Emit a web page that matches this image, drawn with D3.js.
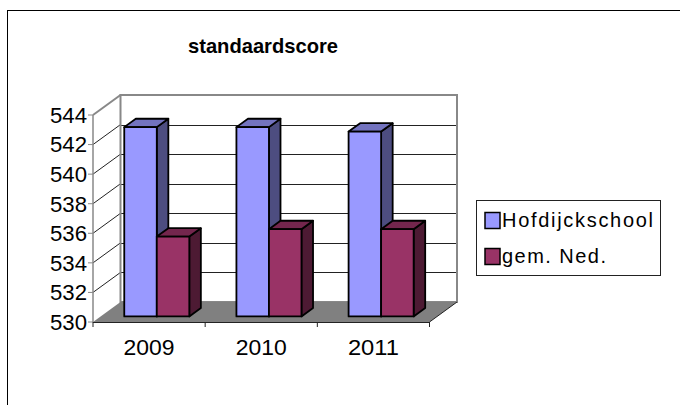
<!DOCTYPE html>
<html>
<head>
<meta charset="utf-8">
<script src="https://cdn.jsdelivr.net/npm/d3@7"></script>
<style>
  body { margin: 0; background: #fff; }
  svg { display: block; font-family: Arial, "Liberation Sans", sans-serif; }
</style>
</head>
<body>
<svg id="chart" width="680" height="405"></svg>
<script>
// chart values
const years = ['2009', '2010', '2011'];
const hofdijckschool = [542.8, 542.8, 542.5];
const gemNed = [535.4, 535.9, 535.9];
const seriesNames = ['Hofdijckschool', 'gem. Ned.'];
const yDomain = [530, 544];

const svg = d3.select('#chart');

// 3d frame: front plane + depth vector
const front = { left: 93, right: 429.5, bottom: 322, top: 115 };
const DX = 27.5, DY = -20;
const barDepth = [0.28, 0.70];

const y = d3.scaleLinear().domain(yDomain).range([front.bottom, front.top]);
const x = d3.scaleBand().domain(years).range([front.left, front.right]);
const groupW = x.bandwidth() * 0.58;
const xs = d3.scaleBand().domain(seriesNames).range([0, groupW]);

const P = (px, py, d) => [px + d * DX, py + d * DY];
const poly = pts => pts.map(p => p.join(',')).join(' ');

const colors = {
  'Hofdijckschool': { front: '#9999ff', top: '#7373bf', side: '#4d4d80' },
  'gem. Ned.': { front: '#993366', top: '#73264d', side: '#4d1a33' }
};

// outer border
svg.append('rect')
  .attr('x', 7.5).attr('y', 10.5)
  .attr('width', 700).attr('height', 420)
  .attr('fill', 'none').attr('stroke', '#000');

// title
svg.append('text')
  .attr('x', 263).attr('y', 53)
  .attr('text-anchor', 'middle')
  .attr('font-size', 21).attr('font-weight', 'bold')
  .attr('textLength', 150).attr('lengthAdjust', 'spacingAndGlyphs')
  .text('standaardscore');

const ticks = y.ticks(7);

// back wall
const bl = P(front.left, front.bottom, 1), tr = P(front.right, front.top, 1);
svg.append('rect')
  .attr('x', bl[0]).attr('y', tr[1])
  .attr('width', tr[0] - bl[0]).attr('height', bl[1] - tr[1])
  .attr('fill', '#fff');

svg.append('g').selectAll('line')
  .data(ticks.filter(t => t > yDomain[0] && t < yDomain[1]))
  .join('line')
  .attr('x1', bl[0]).attr('x2', tr[0])
  .attr('y1', d => Math.round(y(d) + DY) + 0.5)
  .attr('y2', d => Math.round(y(d) + DY) + 0.5)
  .attr('stroke', '#222').attr('stroke-width', 1);

// left wall diagonals
svg.append('g').selectAll('line')
  .data(ticks.filter(t => t > yDomain[0]))
  .join('line')
  .attr('x1', front.left).attr('y1', d => y(d))
  .attr('x2', front.left + DX).attr('y2', d => y(d) + DY)
  .attr('stroke', d => d === yDomain[1] ? '#888' : '#222')
  .attr('stroke-width', d => d === yDomain[1] ? 2 : 1);

svg.append('rect')
  .attr('x', bl[0]).attr('y', tr[1])
  .attr('width', tr[0] - bl[0]).attr('height', bl[1] - tr[1])
  .attr('fill', 'none').attr('stroke', '#888').attr('stroke-width', 2);

// floor
svg.append('polygon')
  .attr('points', poly([
    [front.left, front.bottom], [front.right, front.bottom],
    P(front.right, front.bottom, 1), P(front.left, front.bottom, 1)
  ]))
  .attr('fill', '#808080');
svg.append('line')
  .attr('x1', front.right).attr('y1', front.bottom)
  .attr('x2', front.right + DX).attr('y2', front.bottom + DY)
  .attr('stroke', '#222');

// value axis
svg.append('line')
  .attr('x1', front.left).attr('x2', front.left)
  .attr('y1', front.top).attr('y2', front.bottom)
  .attr('stroke', '#888').attr('stroke-width', 1.5);
const yAxis = svg.append('g');
yAxis.selectAll('line')
  .data(ticks).join('line')
  .attr('x1', front.left - 5).attr('x2', front.left)
  .attr('y1', d => y(d)).attr('y2', d => y(d))
  .attr('stroke', '#888');
yAxis.selectAll('text')
  .data(ticks).join('text')
  .attr('x', 87).attr('y', d => y(d))
  .attr('dy', '0.36em')
  .attr('text-anchor', 'end')
  .attr('font-size', 22)
  .attr('textLength', 37).attr('lengthAdjust', 'spacingAndGlyphs')
  .text(d => d);

// category axis
svg.append('line')
  .attr('x1', front.left).attr('x2', front.right)
  .attr('y1', front.bottom + 0.5).attr('y2', front.bottom + 0.5)
  .attr('stroke', '#222');
svg.append('g').selectAll('line')
  .data([...years.map(c => x(c)), front.right])
  .join('line')
  .attr('x1', d => d).attr('x2', d => d)
  .attr('y1', front.bottom).attr('y2', front.bottom + 5)
  .attr('stroke', '#222');
svg.append('g').selectAll('text')
  .data(years).join('text')
  .attr('x', d => x(d) + x.bandwidth() / 2)
  .attr('y', 355)
  .attr('text-anchor', 'middle')
  .attr('font-size', 22)
  .attr('textLength', 51).attr('lengthAdjust', 'spacingAndGlyphs')
  .text(d => d);

// bars
const bars = [];
years.forEach((c, i) => {
  bars.push({ cat: c, s: seriesNames[0], v: hofdijckschool[i] });
  bars.push({ cat: c, s: seriesNames[1], v: gemNed[i] });
});

const barG = svg.append('g')
  .attr('stroke', '#000').attr('stroke-width', 1.8).attr('stroke-linejoin', 'round');

bars.forEach(b => {
  const x0 = x(b.cat) + (x.bandwidth() - groupW) / 2 + xs(b.s);
  const x1 = x0 + xs.bandwidth();
  const f0 = barDepth[0], f1 = barDepth[1];
  const yb = y(yDomain[0]), yt = y(b.v);
  const c = colors[b.s];
  const g = barG.append('g');
  // side
  g.append('polygon')
    .attr('points', poly([P(x1, yb, f0), P(x1, yt, f0), P(x1, yt, f1), P(x1, yb, f1)]))
    .attr('fill', c.side);
  // top
  g.append('polygon')
    .attr('points', poly([P(x0, yt, f0), P(x1, yt, f0), P(x1, yt, f1), P(x0, yt, f1)]))
    .attr('fill', c.top);
  // front
  g.append('polygon')
    .attr('points', poly([P(x0, yb, f0), P(x1, yb, f0), P(x1, yt, f0), P(x0, yt, f0)]))
    .attr('fill', c.front);
});

// legend
const legendWidths = [151, 104];
const legend = svg.append('g');
legend.append('rect')
  .attr('x', 476.5).attr('y', 200.5)
  .attr('width', 184).attr('height', 75)
  .attr('fill', '#fff').attr('stroke', '#222');
const items = legend.selectAll('g.item')
  .data(seriesNames).join('g')
  .attr('class', 'item')
  .attr('transform', (d, i) => `translate(0, ${i * 36})`);
items.append('rect')
  .attr('x', 485).attr('y', 212.5)
  .attr('width', 15).attr('height', 16)
  .attr('fill', d => colors[d].front)
  .attr('stroke', '#000').attr('stroke-width', 1.5);
items.append('text')
  .attr('x', 502).attr('y', 227)
  .attr('font-size', 20)
  .attr('textLength', (d, i) => legendWidths[i]).attr('lengthAdjust', 'spacing')
  .text(d => d);
</script>
</body>
</html>
